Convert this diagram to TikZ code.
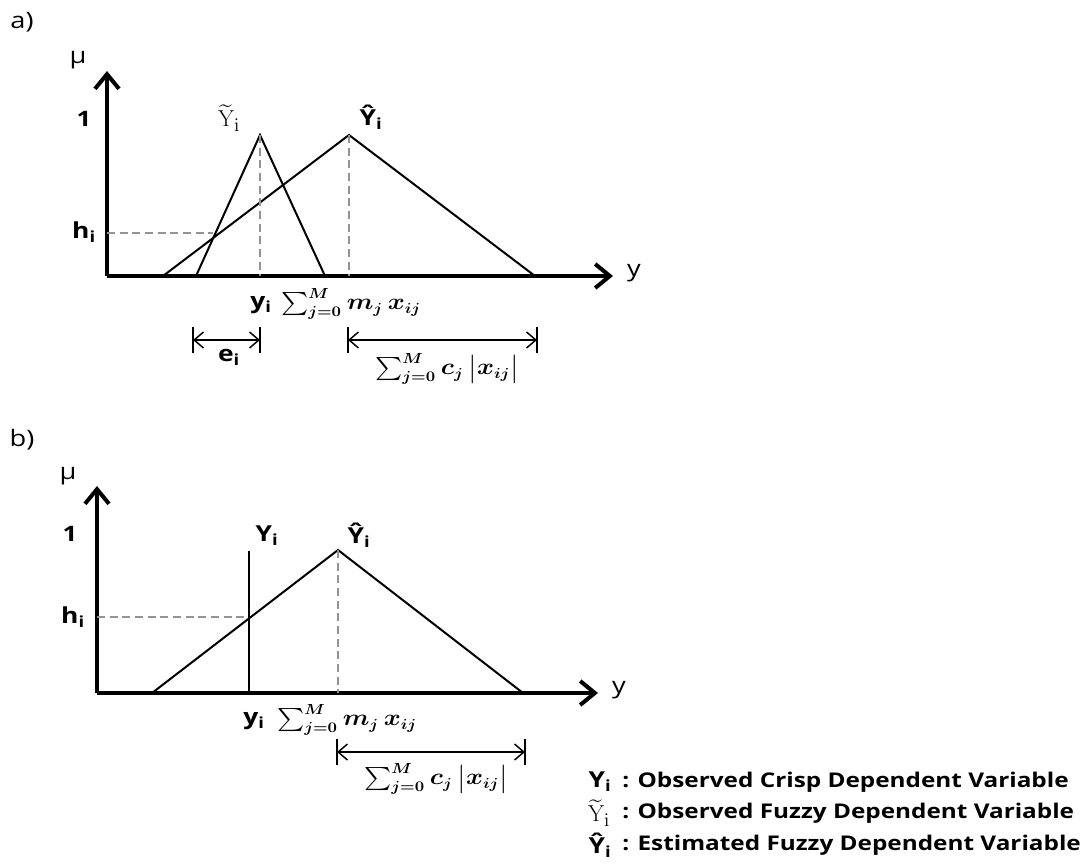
\documentclass[tikz,border=0pt]{standalone}
\usepackage{amsmath}
\usepackage{graphicx}
\usepackage[no-math]{fontspec}
\setmainfont{Open Sans}[FakeStretch=1.2]
\usetikzlibrary{arrows.meta}
\tikzset{
  lab/.style={inner sep=0pt, font=\bfseries\fontsize{16.5}{18}\selectfont},
  one/.style={inner sep=0pt, font=\bfseries\fontsize{16}{18}\selectfont},
  reg/.style={inner sep=0pt, font=\fontsize{17}{19}\selectfont},
  mth/.style={inner sep=0pt, font=\fontsize{16}{18}\selectfont\boldmath},
  leg/.style={inner sep=0pt, anchor=west, font=\bfseries\fontsize{15.2}{17}\selectfont},
  ser/.style={inner sep=0pt, font=\fontsize{19}{21}\selectfont},
  axis/.style={line width=3pt, -{Straight Barb[length=11pt,width=18pt]}},
  tri/.style={line width=1.5pt, line join=miter},
  guide/.style={line width=1.5pt, gray!85, dash pattern=on 6pt off 3.5pt},
  dim/.style={line width=1.1pt, {Straight Barb[length=7pt,width=12pt]}-{Straight Barb[length=7pt,width=12pt]}},
  bar/.style={line width=1.3pt}
}
\newcommand{\tY}{$\widetilde{\mathrm{Y}}_{\mathrm{i}}$}
\newcommand{\hY}{Ŷ\textsubscript{i}}
\newcommand{\widen}[1]{\scalebox{1.12}[1]{#1}}
\begin{document}
\begin{tikzpicture}[x=0.75pt,y=-0.75pt]
\useasboundingbox (0,0) rectangle (1080,866);
% ---------------- panel a ----------------
\node[reg] (la) at (22,22) {a)};
\coordinate (oa) at (107,276);
\coordinate (ta) at (107,71);
\coordinate (ea) at (613,276);
\draw[axis] (oa) -- (ta);
\draw[axis] (oa) -- (ea);
\node[reg] (mua) at (78,60) {μ};
\node[one] (onea) at (84,119) {1};
\node[lab] (ha) at (84,232) {h\textsubscript{i}};
\node[reg] (ya) at (634,273) {y};
% tilde triangle
\coordinate (t1) at (196,276);
\coordinate (t2) at (260,135);
\coordinate (t3) at (325,276);
\draw[tri] (t1) -- (t2) -- (t3);
% hat triangle
\coordinate (h1) at (163,276);
\coordinate (h2) at (349,135);
\coordinate (h3) at (535,276);
\draw[tri] (h1) -- (h2) -- (h3);
% guides
\coordinate (t2b) at (260,276);
\coordinate (h2b) at (349,276);
\coordinate (hia) at (107,233);
\coordinate (xa) at (213,233);
\draw[guide] (t2) -- (t2b);
\draw[guide] (h2) -- (h2b);
\draw[guide] (hia) -- (xa);
\node[ser] (tya) at (229,118) {\tY};
\node[lab] (hya) at (371,117) {\hY};
\node[lab] (yia) at (261,305) {y\textsubscript{i}};
\node[mth] (sma) at (351,304) {\widen{$\sum_{j=0}^{M} m_j\, x_{ij}$}};
% e_i dimension
\coordinate (e1) at (193,340);
\coordinate (e2) at (260,340);
\draw[dim] (e1) -- (e2);
\draw[bar] ([yshift=-10]e1) -- ([yshift=10]e1);
\draw[bar] ([yshift=-10]e2) -- ([yshift=10]e2);
\node[lab] (eia) at (229,357) {e\textsubscript{i}};
% c dimension
\coordinate (c1) at (348,340);
\coordinate (c2) at (537,340);
\draw[dim] (c1) -- (c2);
\draw[bar] ([yshift=-10]c1) -- ([yshift=10]c1);
\draw[bar] ([yshift=-10]c2) -- ([yshift=10]c2);
\node[mth] (sca) at (447,369) {\widen{$\sum_{j=0}^{M} c_j\, \bigl|x_{ij}\bigr|$}};
% ---------------- panel b ----------------
\node[reg] (lb) at (22,440) {b)};
\coordinate (ob) at (97,693);
\coordinate (tb) at (97,486);
\coordinate (eb) at (598,693);
\draw[axis] (ob) -- (tb);
\draw[axis] (ob) -- (eb);
\node[reg] (mub) at (68,476) {μ};
\node[one] (oneb) at (70,534) {1};
\node[lab] (hb) at (73,617) {h\textsubscript{i}};
\node[reg] (yb) at (619,690) {y};
\coordinate (g1) at (152,693);
\coordinate (g2) at (338,550);
\coordinate (g3) at (523,693);
\draw[tri] (g1) -- (g2) -- (g3);
\coordinate (v1) at (249,551);
\coordinate (v2) at (249,693);
\draw[line width=1.5pt] (v1) -- (v2);
\coordinate (g2b) at (338,693);
\coordinate (hib) at (97,617);
\coordinate (xb) at (249,617);
\draw[guide] (g2) -- (g2b);
\draw[guide] (hib) -- (xb);
\node[lab] (Yib) at (267,536) {Y\textsubscript{i}};
\node[lab] (hyb) at (359,535) {\hY};
\node[lab] (yib) at (254,721) {y\textsubscript{i}};
\node[mth] (smb) at (347,720) {\widen{$\sum_{j=0}^{M} m_j\, x_{ij}$}};
\coordinate (d1) at (337,752);
\coordinate (d2) at (525,752);
\draw[dim] (d1) -- (d2);
\draw[bar] ([yshift=-10]d1) -- ([yshift=10]d1);
\draw[bar] ([yshift=-10]d2) -- ([yshift=10]d2);
\node[mth] (scb) at (436,779) {\widen{$\sum_{j=0}^{M} c_j\, \bigl|x_{ij}\bigr|$}};
% ---------------- legend ----------------
\node[lab] (s1) at (600,782) {Y\textsubscript{i}};
\node[leg] (l1) at (622,782) {: Observed Crisp Dependent Variable};
\node[ser] (s2) at (599,813) {\tY};
\node[leg] (l2) at (622,813) {: Observed Fuzzy Dependent Variable};
\node[lab] (s3) at (600,845) {\hY};
\node[leg] (l3) at (622,845) {: Estimated Fuzzy Dependent Variable};
\end{tikzpicture}
\end{document}
